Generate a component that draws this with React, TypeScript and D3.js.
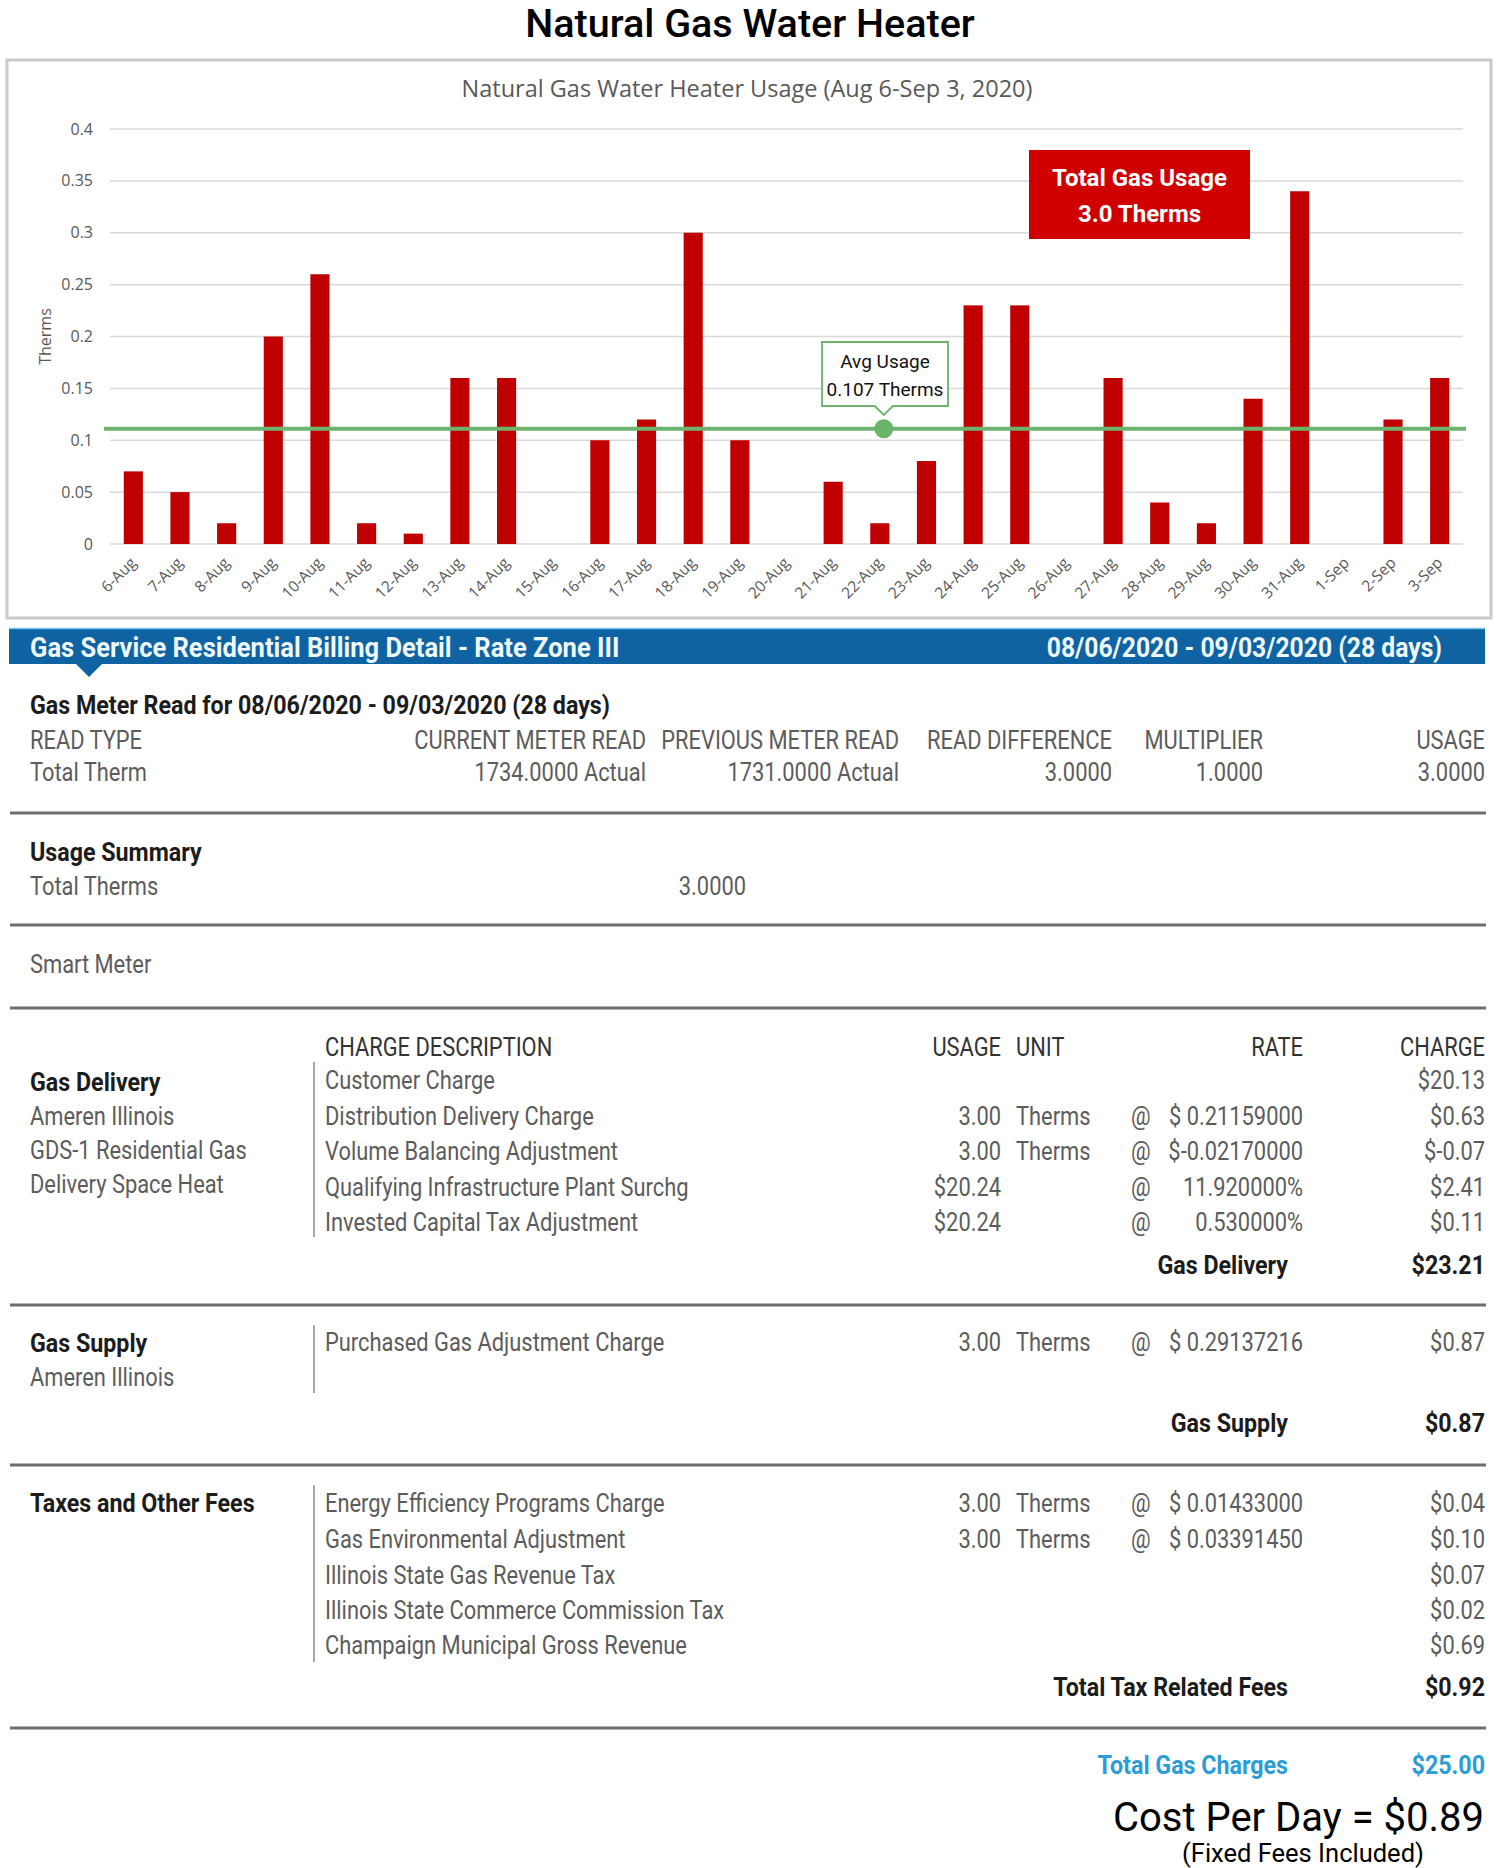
import React from "react";
import * as d3 from "d3";

// ---------- chart data ----------
const DAYS = [
  "6-Aug", "7-Aug", "8-Aug", "9-Aug", "10-Aug", "11-Aug", "12-Aug", "13-Aug", "14-Aug", "15-Aug",
  "16-Aug", "17-Aug", "18-Aug", "19-Aug", "20-Aug", "21-Aug", "22-Aug", "23-Aug", "24-Aug", "25-Aug",
  "26-Aug", "27-Aug", "28-Aug", "29-Aug", "30-Aug", "31-Aug", "1-Sep", "2-Sep", "3-Sep",
];
const USAGE = [
  0.07, 0.05, 0.02, 0.2, 0.26, 0.02, 0.01, 0.16, 0.16, 0,
  0.1, 0.12, 0.3, 0.1, 0, 0.06, 0.02, 0.08, 0.23, 0.23,
  0, 0.16, 0.04, 0.02, 0.14, 0.34, 0, 0.12, 0.16,
];
const Y_TICKS = [0, 0.05, 0.1, 0.15, 0.2, 0.25, 0.3, 0.35, 0.4];
const Y_TICK_LABELS = ["0", "0.05", "0.1", "0.15", "0.2", "0.25", "0.3", "0.35", "0.4"];
const AVG_LINE = 0.111;
const AVG_DAY = "22-Aug";
const AVG_LABEL = ["Avg Usage", "0.107 Therms"];
const TOTAL_LABEL = ["Total Gas Usage", "3.0 Therms"];

// ---------- bill data ----------
const HEADER_LEFT = "Gas Service Residential Billing Detail - Rate Zone III";
const HEADER_RIGHT = "08/06/2020 - 09/03/2020 (28 days)";
const METER_TITLE = "Gas Meter Read for 08/06/2020 - 09/03/2020 (28 days)";
const METER_HEADS = ["READ TYPE", "CURRENT METER READ", "PREVIOUS METER READ", "READ DIFFERENCE", "MULTIPLIER", "USAGE"];
const METER_ROW = ["Total Therm", "1734.0000 Actual", "1731.0000 Actual", "3.0000", "1.0000", "3.0000"];
const CHARGE_HEADS = ["CHARGE DESCRIPTION", "USAGE", "UNIT", "RATE", "CHARGE"];
const DELIVERY_LEFT = ["Gas Delivery", "Ameren Illinois", "GDS-1 Residential Gas", "Delivery Space Heat"];
const DELIVERY_ROWS = [
  ["Customer Charge", "", "", "", "$20.13"],
  ["Distribution Delivery Charge", "3.00", "Therms", "$ 0.21159000", "$0.63"],
  ["Volume Balancing Adjustment", "3.00", "Therms", "$-0.02170000", "$-0.07"],
  ["Qualifying Infrastructure Plant Surchg", "$20.24", "", "11.920000%", "$2.41"],
  ["Invested Capital Tax Adjustment", "$20.24", "", "0.530000%", "$0.11"],
];
const DELIVERY_TOTAL = ["Gas Delivery", "$23.21"];
const SUPPLY_LEFT = ["Gas Supply", "Ameren Illinois"];
const SUPPLY_ROWS = [["Purchased Gas Adjustment Charge", "3.00", "Therms", "$ 0.29137216", "$0.87"]];
const SUPPLY_TOTAL = ["Gas Supply", "$0.87"];
const TAX_LEFT = ["Taxes and Other Fees"];
const TAX_ROWS = [
  ["Energy Efficiency Programs Charge", "3.00", "Therms", "$ 0.01433000", "$0.04"],
  ["Gas Environmental Adjustment", "3.00", "Therms", "$ 0.03391450", "$0.10"],
  ["Illinois State Gas Revenue Tax", "", "", "", "$0.07"],
  ["Illinois State Commerce Commission Tax", "", "", "", "$0.02"],
  ["Champaign Municipal Gross Revenue", "", "", "", "$0.69"],
];
const TAX_TOTAL = ["Total Tax Related Fees", "$0.92"];
const GRAND_TOTAL = ["Total Gas Charges", "$25.00"];
const COST_PER_DAY = "Cost Per Day = $0.89";
const COST_NOTE = "(Fixed Fees Included)";

const W = 1500;
const H = 1868;
const CHART_FONT = "'Open Sans', 'Noto Sans', sans-serif";
const BILL_FONT = "Roboto, 'Liberation Sans', sans-serif";
const SX_REG = 0.875;
const SX_BOLD = 0.93;
const GRAY = "#5c5c5c";
const DARK = "#1c1c1c";

function BillText({ x, y, text, anchor = "start", bold = false, fill, size = 25, sx }: any) {
  return (
    <text
      transform={`translate(${x},${y}) scale(${sx || (bold ? SX_BOLD : SX_REG)},1)`}
      dy="0.36em"
      textAnchor={anchor}
      fontFamily={BILL_FONT}
      fontSize={size}
      fontWeight={bold ? 700 : 400}
      fill={fill || (bold ? DARK : GRAY)}
    >
      {text}
    </text>
  );
}

function ChargeRow({ row, y }: { row: string[]; y: number }) {
  const [desc, usage, unit, rate, charge] = row;
  return (
    <g>
      <BillText x={325} y={y} text={desc} />
      {usage && <BillText x={1001} y={y} text={usage} anchor="end" />}
      {unit && <BillText x={1016} y={y} text={unit} />}
      {rate && <BillText x={1131} y={y} text="@" />}
      {rate && <BillText x={1303} y={y} text={rate} anchor="end" />}
      <BillText x={1485} y={y} text={charge} anchor="end" />
    </g>
  );
}

function Sep({ y }: { y: number }) {
  return <line x1={10} x2={1486} y1={y} y2={y} stroke="#6e6e6e" strokeWidth={3} />;
}

export default function App() {
  const x = d3.scaleBand<string>().domain(DAYS).range([110, 1463]).paddingInner(0.59).paddingOuter(0.295);
  const y = d3.scaleLinear().domain([0, 0.4]).range([544, 129]);
  const avgY = y(AVG_LINE);
  const dotX = (x(AVG_DAY) as number) + x.bandwidth() / 2 + 4;

  const meterRight = [0, 646, 899, 1112, 1263, 1485];
  const deliveryY = [1080, 1115.5, 1151, 1187, 1222];
  const taxY = [1503, 1539, 1575, 1610, 1645];

  return (
    <svg
      width={W}
      height={H}
      viewBox={`0 0 ${W} ${H}`}
      style={{ position: "absolute", left: 0, top: 0, background: "#fff" }}
    >
      <rect x={0} y={0} width={W} height={H} fill="#fff" />
      {/* main title */}
      <text x={750} y={36.5} textAnchor="middle" fontFamily="Roboto, sans-serif" fontWeight={500} fontSize={39.5} fill="#000">
        Natural Gas Water Heater
      </text>

      {/* chart frame */}
      <rect x={7} y={60} width={1484} height={558} fill="#fff" stroke="#cacaca" strokeWidth={3} />
      <text x={747} y={89} dy="0.36em" textAnchor="middle" fontFamily={CHART_FONT} fontSize={23.5} fill="#595959">
        Natural Gas Water Heater Usage (Aug 6-Sep 3, 2020)
      </text>

      {/* gridlines and y ticks */}
      {Y_TICKS.map((t, i) => (
        <g key={t}>
          <line x1={110} x2={1463} y1={y(t)} y2={y(t)} stroke="#d9d9d9" strokeWidth={1.5} />
          <text x={93} y={y(t)} dy="0.35em" textAnchor="end" fontFamily={CHART_FONT} fontSize={16} fill="#595959">
            {Y_TICK_LABELS[i]}
          </text>
        </g>
      ))}
      <text
        transform={`translate(45,${(y(0) + y(0.4)) / 2}) rotate(-90)`}
        dy="0.35em"
        textAnchor="middle"
        fontFamily={CHART_FONT}
        fontSize={16}
        fill="#595959"
      >
        Therms
      </text>

      {/* bars */}
      {DAYS.map((d, i) => (
        <rect
          key={d}
          x={x(d)}
          y={y(USAGE[i])}
          width={x.bandwidth()}
          height={y(0) - y(USAGE[i])}
          fill="#c00000"
        />
      ))}

      {/* x tick labels */}
      {DAYS.map((d) => {
        const cx = (x(d) as number) + x.bandwidth() / 2;
        return (
          <text
            key={d}
            transform={`translate(${cx},${560}) rotate(-45)`}
            textAnchor="end"
            dy="0.35em"
            fontFamily={CHART_FONT}
            fontSize={15.5}
            fill="#595959"
          >
            {d}
          </text>
        );
      })}

      {/* avg line */}
      <line x1={104} x2={1466} y1={avgY} y2={avgY} stroke="#6db26d" strokeWidth={4} />
      <circle cx={dotX} cy={avgY} r={9.5} fill="#6ab56a" />
      <path
        d={`M822,342 H948 V406 H${dotX + 9} L${dotX},415 L${dotX - 9},406 H822 Z`}
        fill="#fff"
        stroke="#6db26d"
        strokeWidth={1.8}
      />
      <text x={885} y={361} dy="0.36em" textAnchor="middle" fontFamily="Roboto, sans-serif" fontSize={19} fill="#111">
        {AVG_LABEL[0]}
      </text>
      <text x={885} y={389} dy="0.36em" textAnchor="middle" fontFamily="Roboto, sans-serif" fontSize={19} fill="#111">
        {AVG_LABEL[1]}
      </text>

      {/* total box */}
      <rect x={1029} y={150} width={221} height={89} fill="#d10000" />
      <text x={1139.5} y={177} dy="0.36em" textAnchor="middle" fontFamily="Roboto, sans-serif" fontWeight={700} fontSize={24} fill="#fff">
        {TOTAL_LABEL[0]}
      </text>
      <text x={1139.5} y={213} dy="0.36em" textAnchor="middle" fontFamily="Roboto, sans-serif" fontWeight={700} fontSize={24} fill="#fff">
        {TOTAL_LABEL[1]}
      </text>

      {/* blue header bar */}
      <rect x={9} y={628} width={1476} height={36} fill="#0f63a2" />
      <line x1={9} x2={1485} y1={628.5} y2={628.5} stroke="#7cc6ec" strokeWidth={1.5} />
      <path d="M75,663 L103,663 L89,677 Z" fill="#0f63a2" />
      <BillText x={30} y={647} text={HEADER_LEFT} bold fill="#eef8fd" size={27} sx={0.945} />
      <BillText x={1442} y={647} text={HEADER_RIGHT} anchor="end" bold fill="#eef8fd" size={27} sx={0.915} />

      {/* meter read */}
      <BillText x={30} y={705} text={METER_TITLE} bold />
      {METER_HEADS.map((h, i) => (
        <BillText key={h} x={i === 0 ? 30 : meterRight[i]} y={740} text={h} anchor={i === 0 ? "start" : "end"} />
      ))}
      {METER_ROW.map((v, i) => (
        <BillText key={i} x={i === 0 ? 30 : meterRight[i]} y={772} text={v} anchor={i === 0 ? "start" : "end"} />
      ))}
      <Sep y={813} />

      {/* usage summary */}
      <BillText x={30} y={852} text="Usage Summary" bold />
      <BillText x={30} y={886} text="Total Therms" />
      <BillText x={746} y={886} text="3.0000" anchor="end" />
      <Sep y={925} />
      <BillText x={30} y={964} text="Smart Meter" />
      <Sep y={1008} />

      {/* charges header */}
      <BillText x={325} y={1047} text={CHARGE_HEADS[0]} fill="#333" />
      <BillText x={1001} y={1047} text={CHARGE_HEADS[1]} anchor="end" fill="#333" />
      <BillText x={1016} y={1047} text={CHARGE_HEADS[2]} fill="#333" />
      <BillText x={1303} y={1047} text={CHARGE_HEADS[3]} anchor="end" fill="#333" />
      <BillText x={1485} y={1047} text={CHARGE_HEADS[4]} anchor="end" fill="#333" />

      {/* gas delivery */}
      {DELIVERY_LEFT.map((t, i) => (
        <BillText key={t} x={30} y={1082 + i * 34} text={t} bold={i === 0} />
      ))}
      <line x1={314} x2={314} y1={1062} y2={1237} stroke="#888" strokeWidth={1.5} />
      {DELIVERY_ROWS.map((r, i) => (
        <ChargeRow key={r[0]} row={r} y={deliveryY[i]} />
      ))}
      <BillText x={1288} y={1265} text={DELIVERY_TOTAL[0]} anchor="end" bold />
      <BillText x={1485} y={1265} text={DELIVERY_TOTAL[1]} anchor="end" bold />
      <Sep y={1305} />

      {/* gas supply */}
      {SUPPLY_LEFT.map((t, i) => (
        <BillText key={t} x={30} y={1343 + i * 34} text={t} bold={i === 0} />
      ))}
      <line x1={314} x2={314} y1={1325} y2={1393} stroke="#888" strokeWidth={1.5} />
      {SUPPLY_ROWS.map((r) => (
        <ChargeRow key={r[0]} row={r} y={1342} />
      ))}
      <BillText x={1288} y={1423} text={SUPPLY_TOTAL[0]} anchor="end" bold />
      <BillText x={1485} y={1423} text={SUPPLY_TOTAL[1]} anchor="end" bold />
      <Sep y={1465} />

      {/* taxes */}
      <BillText x={30} y={1503} text={TAX_LEFT[0]} bold />
      <line x1={314} x2={314} y1={1485} y2={1662} stroke="#888" strokeWidth={1.5} />
      {TAX_ROWS.map((r, i) => (
        <ChargeRow key={r[0]} row={r} y={taxY[i]} />
      ))}
      <BillText x={1288} y={1687} text={TAX_TOTAL[0]} anchor="end" bold />
      <BillText x={1485} y={1687} text={TAX_TOTAL[1]} anchor="end" bold />
      <Sep y={1728} />

      {/* totals */}
      <BillText x={1288} y={1765} text={GRAND_TOTAL[0]} anchor="end" bold fill="#2a9dd6" />
      <BillText x={1485} y={1765} text={GRAND_TOTAL[1]} anchor="end" bold fill="#2a9dd6" />
      <text x={1484} y={1817} dy="0.36em" textAnchor="end" fontFamily="Roboto, sans-serif" fontSize={40} fill="#000">
        {COST_PER_DAY}
      </text>
      <text x={1303} y={1853} dy="0.36em" textAnchor="middle" fontFamily="Roboto, sans-serif" fontSize={25.5} fill="#000">
        {COST_NOTE}
      </text>
    </svg>
  );
}
